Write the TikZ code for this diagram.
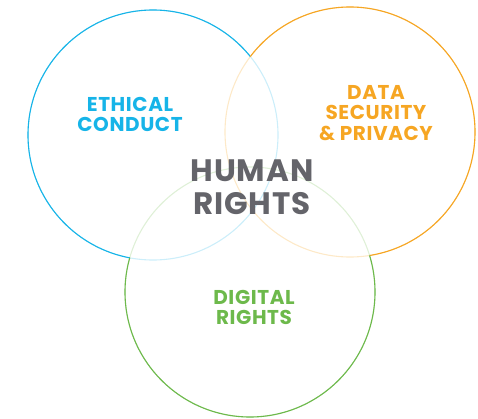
\documentclass[tikz,border=0pt]{standalone}
\usepackage{fontspec}
\setmainfont{Poppins}[LetterSpace=3]
\usetikzlibrary{positioning}
\definecolor{vennblue}{RGB}{22,180,232}
\definecolor{vennorange}{RGB}{246,166,35}
\definecolor{venngreen}{RGB}{109,185,75}
\definecolor{venngrey}{RGB}{100,100,106}
\tikzset{
  vring/.style ={line width=1.1pt},
  vfaint/.style={line width=1.1pt},
  vlabel/.style={align=center, inner sep=0pt,
                 font=\bfseries\fontsize{20}{20.5}\selectfont},
  vtitle/.style={align=center, inner sep=0pt, text=venngrey,
                 font=\bfseries\fontsize{31}{33}\selectfont},
}

\begin{document}
\begin{tikzpicture}[x=1pt, y=1pt]
\useasboundingbox (0,0) rectangle (478,418);
\coordinate (cblue)   at (153,283);
\coordinate (corange) at (350,286);
\coordinate (cgreen)  at (250,126);
% faint rings (the parts inside the other circles)
\draw[vfaint, vennblue!22]   (cblue)   circle[radius=125];
\draw[vfaint, vennorange!25] (corange) circle[radius=125];
\draw[vfaint, venngreen!22]  (cgreen)  circle[radius=125];
% strong rings, outside the other circles only
\begin{scope}[even odd rule]
  \clip (0,0) rectangle (478,418) (corange) circle[radius=125];
  \clip (0,0) rectangle (478,418) (cgreen) circle[radius=125];
  \draw[vring, vennblue] (cblue) circle[radius=125];
\end{scope}
\begin{scope}[even odd rule]
  \clip (0,0) rectangle (478,418) (cblue) circle[radius=125];
  \clip (0,0) rectangle (478,418) (cgreen) circle[radius=125];
  \draw[vring, vennorange] (corange) circle[radius=125];
\end{scope}
\begin{scope}[even odd rule]
  \clip (0,0) rectangle (478,418) (cblue) circle[radius=125];
  \clip (0,0) rectangle (478,418) (corange) circle[radius=125];
  \draw[vring, venngreen] (cgreen) circle[radius=125];
\end{scope}
% labels
\node[vlabel, text=vennblue]   (ethical) at (130,303.5) {ETHICAL\\CONDUCT};
\node[vlabel, text=vennorange] (datasec) at (376,305)   {DATA\\SECURITY\\\& PRIVACY};
\node[vlabel, text=venngreen]  (digital) at (254,110.5) {DIGITAL\\RIGHTS};
\node[vtitle] (human) at (252,230.5) {HUMAN\\RIGHTS};
\end{tikzpicture}
\end{document}
